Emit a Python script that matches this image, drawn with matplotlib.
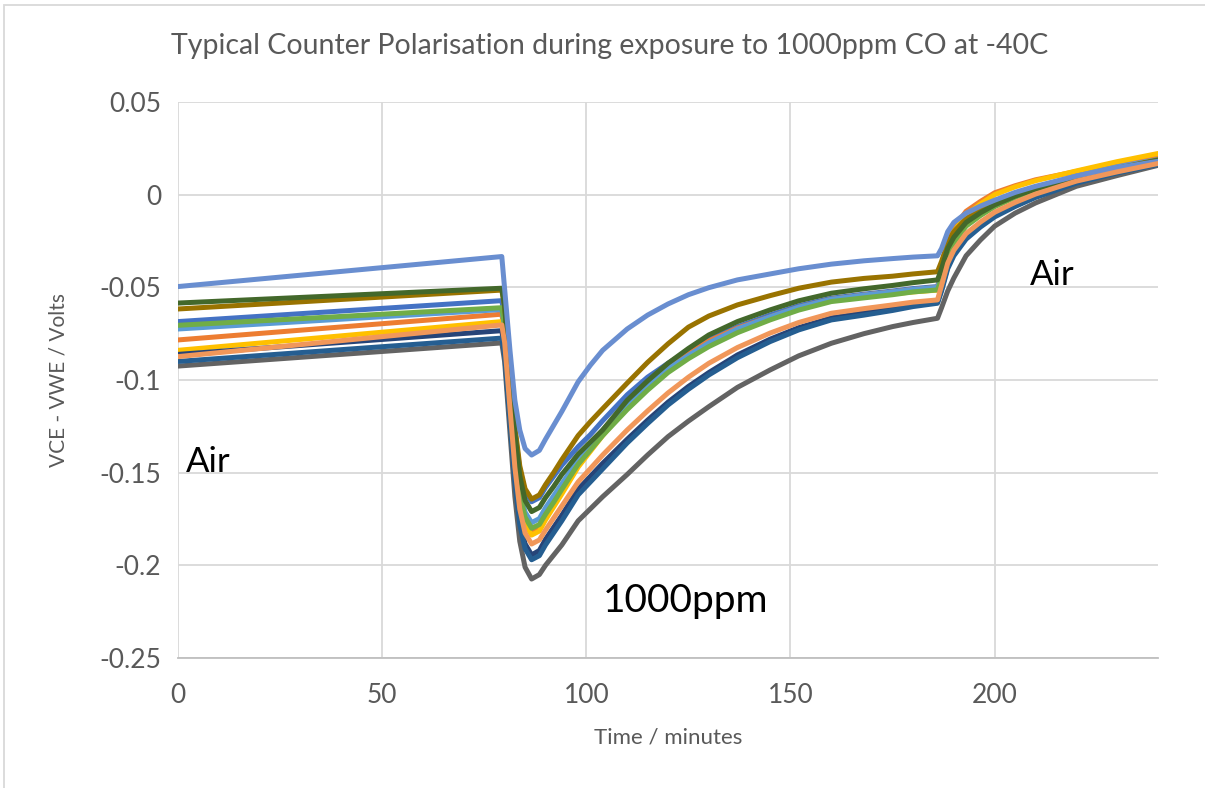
import matplotlib
matplotlib.use("Agg")
import matplotlib.pyplot as plt
from matplotlib.patches import Rectangle

# time axis (minutes), shared by every trace
time_min = [0, 79.3, 80, 81.3, 82.5, 83.7, 85, 86.6, 88.5, 90, 92, 94, 98, 101, 104, 110,
            115, 120, 125, 130, 137, 145, 152, 160, 168, 175, 180, 186, 187, 188.5, 190,
            193, 196.5, 200, 205, 210, 220, 230, 240]

# VCE - VWE (volts), one list per sensor trace
blue = [-0.0685, -0.0572, -0.0659, -0.0984, -0.1277, -0.1483, -0.1603, -0.1657, -0.1635, -0.158,
        -0.152, -0.146, -0.136, -0.1295, -0.122, -0.108, -0.0985, -0.0910, -0.0842, -0.078,
        -0.0713, -0.065, -0.0600, -0.0559, -0.0537, -0.052, -0.0507, -0.0496, -0.043, -0.031,
        -0.024, -0.015, -0.0098, -0.0055, -0.0008, 0.0033, 0.0097, 0.0145, 0.0188]
orange = [-0.0784, -0.0645, -0.0739, -0.1092, -0.1409, -0.1632, -0.1761, -0.182, -0.180, -0.174,
          -0.167, -0.160, -0.146, -0.1365, -0.128, -0.113, -0.1030, -0.0935, -0.0860, -0.079,
          -0.0720, -0.066, -0.0608, -0.0565, -0.0542, -0.0525, -0.0512, -0.050, -0.041, -0.026,
          -0.018, -0.009, -0.0037, 0.001, 0.0048, 0.008, 0.0125, 0.017, 0.021]
yellow = [-0.0840, -0.0685, -0.0777, -0.1123, -0.1434, -0.1653, -0.1779, -0.1837, -0.1815, -0.1755,
          -0.1685, -0.1615, -0.147, -0.1385, -0.130, -0.1145, -0.1045, -0.095, -0.0875, -0.0805,
          -0.0733, -0.0668, -0.0615, -0.0572, -0.0552, -0.0535, -0.0525, -0.0515, -0.043, -0.029,
          -0.020, -0.011, -0.0050, 0.000, 0.0042, 0.0075, 0.0128, 0.0178, 0.0222]
sky = [-0.0725, -0.062, -0.0712, -0.1057, -0.1368, -0.1586, -0.1713, -0.177, -0.1748, -0.169,
       -0.1625, -0.156, -0.143, -0.135, -0.127, -0.113, -0.1030, -0.094, -0.0868, -0.080,
       -0.0725, -0.066, -0.0608, -0.0565, -0.0542, -0.0525, -0.0512, -0.050, -0.043, -0.030,
       -0.023, -0.014, -0.0088, -0.0045, 0.0000, 0.004, 0.010, 0.015, 0.019]
green = [-0.0705, -0.061, -0.0705, -0.1062, -0.1384, -0.161, -0.174, -0.180, -0.178, -0.1725,
         -0.166, -0.159, -0.1455, -0.1378, -0.130, -0.116, -0.1055, -0.096, -0.0885, -0.082,
         -0.0745, -0.0676, -0.0623, -0.0577, -0.0557, -0.054, -0.0525, -0.0514, -0.045, -0.033,
         -0.026, -0.017, -0.0113, -0.0065, -0.0015, 0.0028, 0.0092, 0.014, 0.0185]
navy = [-0.0862, -0.0734, -0.0831, -0.1194, -0.152, -0.175, -0.1884, -0.1944, -0.192, -0.186,
        -0.1795, -0.173, -0.159, -0.152, -0.145, -0.132, -0.1217, -0.112, -0.1035, -0.096,
        -0.0865, -0.078, -0.0718, -0.0665, -0.0638, -0.0615, -0.0596, -0.058, -0.051, -0.039,
        -0.032, -0.023, -0.0168, -0.0115, -0.0060, -0.0012, 0.0063, 0.0118, 0.0163]
grey = [-0.0925, -0.080, -0.0902, -0.1284, -0.1628, -0.187, -0.201, -0.2074, -0.205, -0.200,
        -0.1945, -0.189, -0.176, -0.1695, -0.163, -0.151, -0.1405, -0.1306, -0.1222, -0.1144,
        -0.1040, -0.0946, -0.0870, -0.0802, -0.0750, -0.0712, -0.0690, -0.0667, -0.061, -0.052,
        -0.045, -0.033, -0.0245, -0.017, -0.0100, -0.0045, 0.0045, 0.0103, 0.0158]
dark_gold = [-0.0617, -0.0515, -0.0605, -0.0944, -0.1248, -0.1463, -0.1587, -0.1643, -0.1620, -0.1565,
             -0.1500, -0.143, -0.130, -0.1225, -0.1155, -0.1017, -0.0905, -0.0805, -0.0715, -0.0655,
             -0.0595, -0.0545, -0.0505, -0.0472, -0.0452, -0.044, -0.0428, -0.0416, -0.036, -0.026,
             -0.020, -0.013, -0.0085, -0.0045, -0.0002, 0.0035, 0.0095, 0.0142, 0.0188]
dark_blue = [-0.090, -0.0774, -0.087, -0.1228, -0.1551, -0.1779, -0.1910, -0.197, -0.1948, -0.189,
             -0.1825, -0.176, -0.162, -0.155, -0.148, -0.134, -0.1235, -0.1135, -0.1050, -0.0973,
             -0.0880, -0.0793, -0.0730, -0.0676, -0.0650, -0.0625, -0.0604, -0.0586, -0.052, -0.040,
             -0.033, -0.024, -0.0175, -0.012, -0.0064, -0.0015, 0.0062, 0.0117, 0.0163]
dark_green = [-0.0585, -0.0505, -0.0601, -0.0963, -0.1288, -0.1517, -0.1650, -0.171, -0.1688, -0.1635,
              -0.1575, -0.151, -0.140, -0.1335, -0.127, -0.111, -0.1005, -0.091, -0.0830, -0.0757,
              -0.0685, -0.0622, -0.0573, -0.0532, -0.0508, -0.049, -0.0475, -0.046, -0.040, -0.029,
              -0.023, -0.015, -0.0098, -0.0055, -0.0008, 0.003, 0.0093, 0.014, 0.0185]
light_blue = [-0.0496, -0.0334, -0.051, -0.084, -0.111, -0.127, -0.137, -0.1405, -0.138, -0.132,
              -0.1245, -0.117, -0.101, -0.092, -0.084, -0.0725, -0.0650, -0.0590, -0.0540, -0.0502,
              -0.0460, -0.0428, -0.0400, -0.0375, -0.0357, -0.0345, -0.0337, -0.033, -0.029, -0.020,
              -0.015, -0.010, -0.0062, -0.003, 0.0012, 0.0045, 0.0100, 0.0145, 0.0180]
light_orange = [-0.0874, -0.0703, -0.0798, -0.1152, -0.1471, -0.1696, -0.1826, -0.1885, -0.1863, -0.181,
                -0.1745, -0.168, -0.155, -0.1478, -0.1405, -0.127, -0.1167, -0.107, -0.0985, -0.091,
                -0.0825, -0.0747, -0.0690, -0.064, -0.0615, -0.0595, -0.0580, -0.0568, -0.049, -0.037,
                -0.030, -0.021, -0.0148, -0.0095, -0.0042, 0.0003, 0.0073, 0.0123, 0.0168]

y_ticks = [0.05, 0, -0.05, -0.1, -0.15, -0.2, -0.25]
y_tick_labels = ["0.05", "0", "-0.05", "-0.1", "-0.15", "-0.2", "-0.25"]
x_ticks = [0, 50, 100, 150, 200]

# drawing order follows the spreadsheet series order
traces = [
    (blue, "#4472C4"),
    (orange, "#ED7D31"),
    (yellow, "#FFC000"),
    (sky, "#5B9BD5"),
    (green, "#70AD47"),
    (navy, "#264478"),
    (grey, "#636363"),
    (dark_gold, "#997300"),
    (dark_blue, "#255E91"),
    (dark_green, "#43682B"),
    (light_blue, "#698ED0"),
    (light_orange, "#F1975A"),
]

plt.rcParams["font.family"] = ["Lato", "DejaVu Sans"]

fig = plt.figure(figsize=(12.05, 7.88), dpi=100)
ax = fig.add_axes([0.1477, 0.165, 0.8133, 0.7056])

for values, colour in traces:
    ax.plot(time_min, values, color=colour, lw=3.6, solid_joinstyle="round", solid_capstyle="round")

ax.set_xlim(0, 240)
ax.set_ylim(-0.25, 0.05)
ax.set_xticks(x_ticks)
ax.set_yticks(y_ticks)
ax.set_yticklabels(y_tick_labels)
ax.grid(True, color="#D9D9D9", lw=1.3)
ax.set_axisbelow(True)
ax.tick_params(length=0, labelsize=19, colors="#595959", pad=12)
ax.tick_params(axis="x", pad=18)
for side in ["top", "right", "left"]:
    ax.spines[side].set_visible(False)
ax.spines["bottom"].set_color("#BFBFBF")
ax.spines["bottom"].set_linewidth(1.3)

ax.set_xlabel("Time / minutes", fontsize=16, color="#595959", labelpad=14)
ax.set_ylabel("VCE - VWE / Volts", fontsize=15, color="#595959", labelpad=22)
fig.text(0.506, 0.942, "Typical Counter Polarisation during exposure to 1000ppm CO at -40C",
         ha="center", va="center", fontsize=20.5, color="#595959")

# phase annotations
ax.text(2, -0.1443, "Air", fontsize=25, color="black", va="center", ha="left")
ax.text(104, -0.219, "1000ppm", fontsize=28, color="black", va="center", ha="left")
ax.text(208.6, -0.0433, "Air", fontsize=25, color="black", va="center", ha="left")

# chart area border
fig.patches.append(Rectangle((0.003, -0.02), 1.1, 1.0 - 0.006 + 0.02, transform=fig.transFigure,
                             fill=False, edgecolor="#D9D9D9", lw=1.3))

fig.savefig("out.png", dpi=100, facecolor="white")
